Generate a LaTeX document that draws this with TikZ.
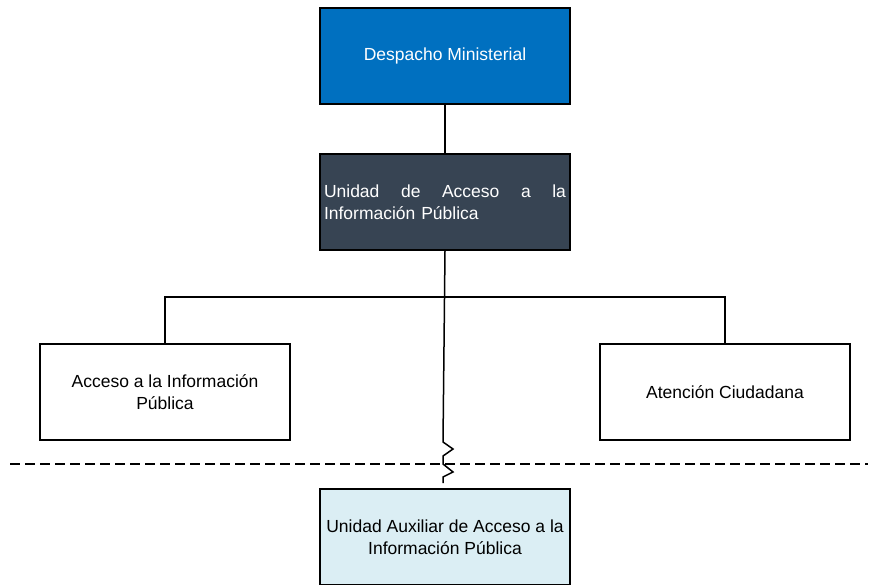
\documentclass[tikz,border=0pt]{standalone}
\usepackage{fontspec}
\setmainfont{Liberation Sans}
\usetikzlibrary{positioning}

\definecolor{despacho}{HTML}{0070C0}
\definecolor{uaip}{HTML}{374453}
\definecolor{auxiliar}{HTML}{DBEEF4}

\begin{document}
\begin{tikzpicture}[x=1pt, y=-1pt, font=\fontsize{17.5}{21.5}\selectfont,
  unit/.style={draw=black, line width=1.5pt, minimum width=250pt,
    minimum height=96pt, inner sep=4pt, align=center},
  link/.style={line width=1.5pt}]

  \useasboundingbox (0,0) rectangle (870,584);

  % boxes
  \node[unit, fill=despacho, text=white] (desp) at (445,56) {Despacho Ministerial};
  \node[unit, fill=uaip, text=white, text width=242pt, align=left] (uaip) at (445,202)
    {Unidad\hfill de\hfill Acceso\hfill a\hfill la\\Información Pública};
  \node[unit] (acc) at (165,392) {Acceso a la Información\\Pública};
  \node[unit] (aten) at (725,392) {Atención Ciudadana};
  \node[unit, fill=auxiliar] (aux) at (445,537)
    {Unidad Auxiliar de Acceso a la\\Información Pública};

  % connectors
  \draw[link] (desp) -- (uaip);
  \coordinate (fork) at (uaip.south |- 0,297);
  \draw[link] (acc.north) |- (fork) -| (aten.north);
  \coordinate (cut) at (443,483);
  \draw[link] (uaip.south) -- (443,442) -- (453,449) -- (443,456) -- (443,464)
    -- (453,472) -- (443,477) -- (cut);

  % dashed border
  \draw[line width=1.2pt, dash pattern=on 10pt off 5pt] (10,464) -- (868,464);

\end{tikzpicture}
\end{document}
